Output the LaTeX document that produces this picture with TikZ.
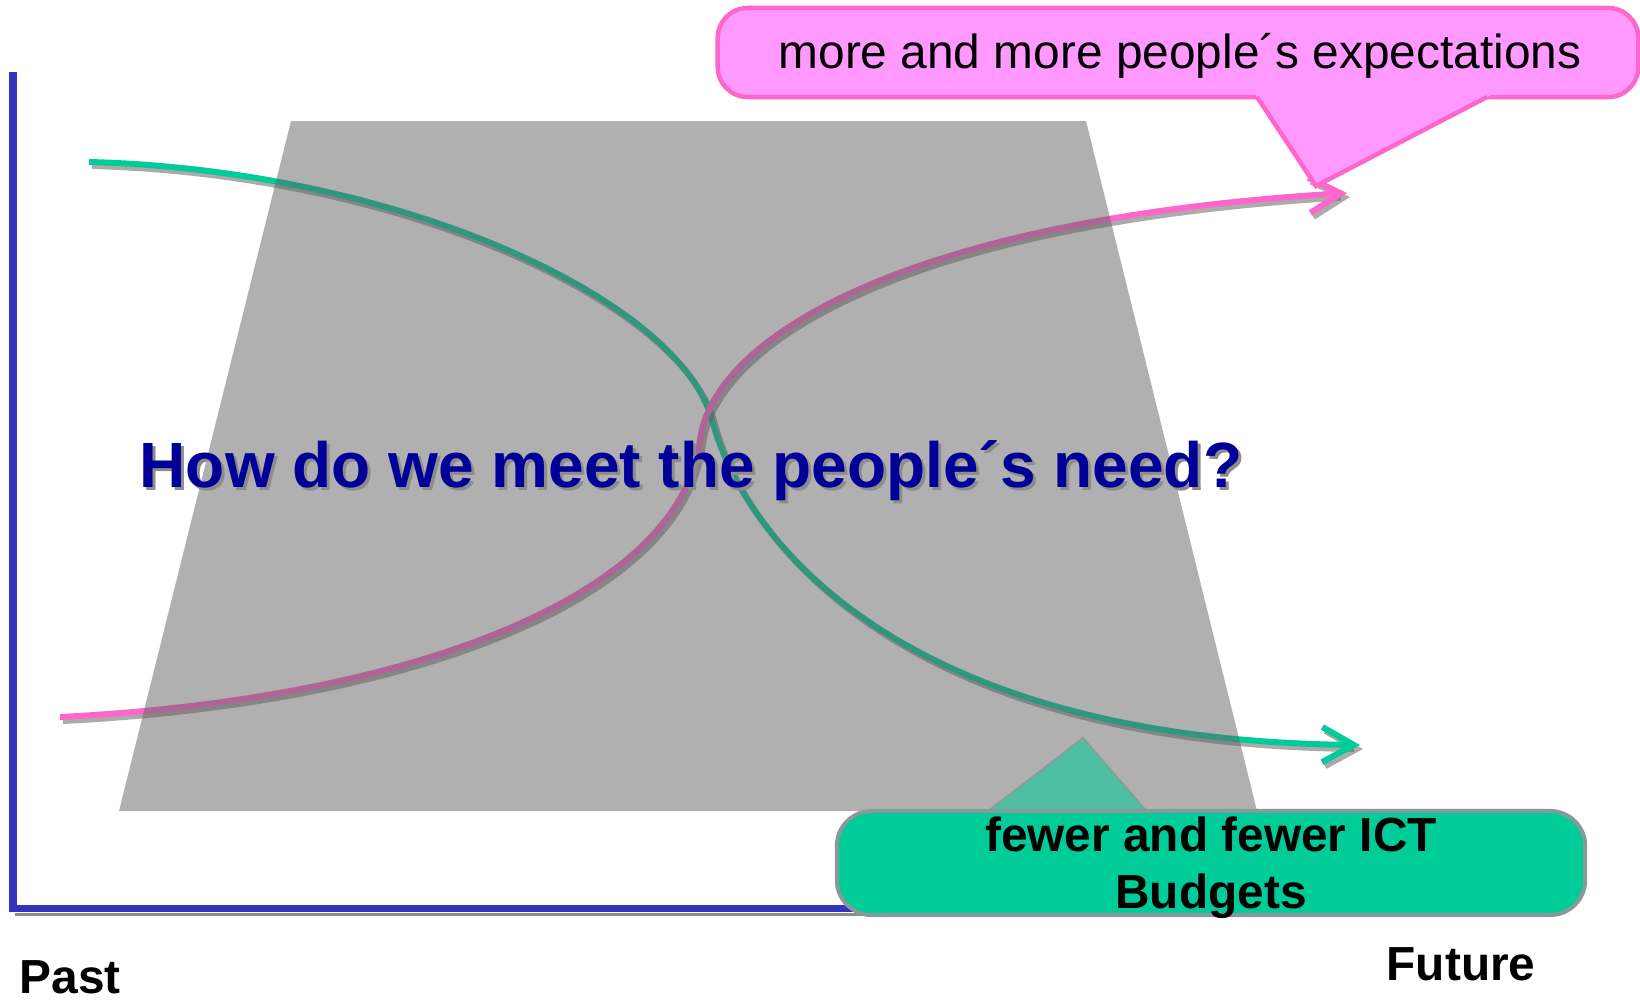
\documentclass[tikz,border=0pt]{standalone}
\usepackage{fontspec}
\setmainfont{Liberation Sans}
\usepackage{tikz}
\usetikzlibrary{arrows.meta}

\definecolor{axisblue}{HTML}{3333BB}
\definecolor{trendgreen}{HTML}{00CC99}
\definecolor{trendpink}{HTML}{FF66CC}
\definecolor{calloutpink}{HTML}{FF99FF}
\definecolor{boxgray}{HTML}{889999}
\definecolor{navy}{HTML}{000099}

\tikzset{
  axisline/.style={draw=axisblue, line width=0.07cm, line join=miter},
  axisshadow/.style={draw=black!45, line width=0.03cm},
  trend/.style={line width=0.06cm, -{Straight Barb[length=9pt,width=10pt]}},
  trendshadow/.style={trend, draw=black!60, opacity=0.55},
  budgetzone/.style={fill=black!62, fill opacity=0.5},
  expectbox/.style={draw=trendpink, fill=calloutpink, line width=0.045cm,
    rounded corners=0.3cm, minimum width=9.2cm, minimum height=0.89cm},
  expecttext/.style={inner sep=0pt, font=\fontsize{13.6}{16}\selectfont},
  budgetbox/.style={draw=boxgray, fill=trendgreen, line width=0.04cm,
    rounded corners=0.35cm, minimum width=7.48cm, minimum height=1.04cm},
  budgettext/.style={align=center, inner sep=0pt, font=\bfseries\fontsize{13.6}{16.2}\selectfont},
  budgetpointer/.style={draw=boxgray, draw opacity=0.8, line width=0.02cm, fill=trendgreen, fill opacity=0.55},
  question/.style={text=navy, inner sep=0pt, font=\bfseries\fontsize{18.2}{22}\selectfont},
  timelabel/.style={inner sep=0pt, font=\bfseries\fontsize{13.6}{16}\selectfont}
}

\begin{document}
\begin{tikzpicture}[x=0.01cm, y=-0.01cm]
  \useasboundingbox (0,0) rectangle (1640,1000);

  % axes
  \coordinate (ytop) at (13,72);
  \coordinate (origin) at (13,908);
  \coordinate (xend) at (1465,908);
  \draw[axisshadow, transform canvas={shift={(2,6)}}] (origin) -- (xend);
  \draw[axisline] (ytop) -- (origin) -- (xend);

  % the two trends
  \draw[trendshadow, shift={(3,4)}] (89,162) .. controls (400,170) and (680,300) .. (712,420)
      .. controls (744,540) and (900,740) .. (1360,745);
  \draw[trend, draw=trendgreen] (89,162) .. controls (400,170) and (680,300) .. (712,420)
      .. controls (744,540) and (900,740) .. (1360,745);
  \draw[trendshadow, shift={(3,4)}] (60,717) .. controls (400,700) and (680,600) .. (700,440)
      .. controls (712.5,340) and (900,220) .. (1347,193);
  \draw[trend, draw=trendpink] (60,717) .. controls (400,700) and (680,600) .. (700,440)
      .. controls (712.5,340) and (900,220) .. (1347,193);

  \fill[budgetzone] (291,121) -- (1086,121) -- (1257,811) -- (119,811) -- cycle;

  % budgets callout
  \coordinate (bleft) at (983,815);
  \coordinate (btip) at (1083,738);
  \coordinate (bright) at (1150,815);
  \draw[budgetpointer] (bleft) -- (btip) -- (bright) -- cycle;
  \node[budgetbox] (budget) at (1211,863) {};
  \node[budgettext] (budgetlabel) at (1211,868) {fewer and fewer ICT\\Budgets};

  % expectations callout
  \node[expectbox] (expect) at (1178,52.5) {};
  \node[expecttext] (expectlabel) at (1180,56) {more and more people´s expectations};
  \coordinate (eleft) at (1257,97);
  \coordinate (etip) at (1316,186);
  \coordinate (eright) at (1487,97);
  \fill[calloutpink] (1254,93) -- (etip) -- (1495,93) -- cycle;
  \draw[trendpink, line width=0.045cm, line join=miter] (eleft) -- (etip) -- (eright);

  \node[question, text=black!45, anchor=base west] (qshadow) at (142,490) {How do we meet the people´s need?};
  \node[question, anchor=base west] (question) at (139,487) {How do we meet the people´s need?};

  \node[timelabel, anchor=base west] (past) at (19,993) {Past};
  \node[timelabel, anchor=base west] (future) at (1386,980) {Future};
\end{tikzpicture}
\end{document}
